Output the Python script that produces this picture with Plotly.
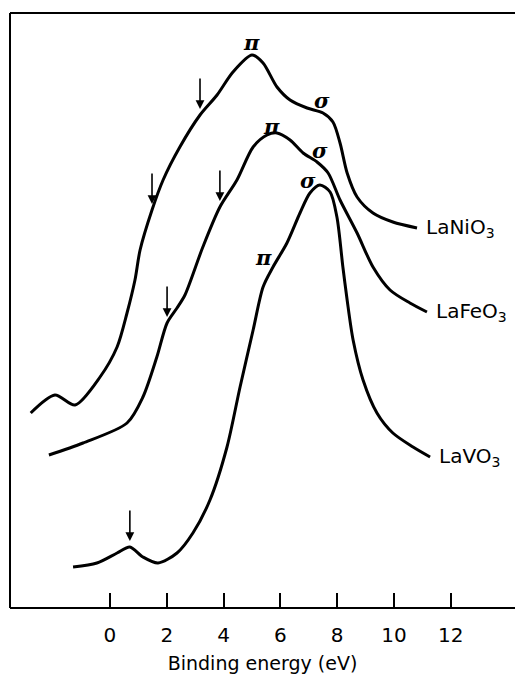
import numpy as np
import plotly.graph_objects as go

# Valence-band spectra (binding energy in eV, intensity in arbitrary units)
ni_energy = [-2.79, -1.94, -1.23, -0.35, 0.25, 0.60, 0.88, 1.06, 1.48, 1.87, 2.46,
             3.17, 3.77, 4.33, 5.00, 5.39, 5.88, 6.34, 6.94, 7.50, 7.85, 8.10,
             8.35, 8.70, 9.26, 9.96, 10.81]
ni_intensity = [195, 213, 203, 231, 261, 295, 328, 358, 398, 428, 461,
                493, 513, 536, 553, 545, 521, 508, 500, 495, 486, 465,
                435, 411, 395, 386, 380]

fe_energy = [-2.15, -0.95, 0.60, 1.16, 1.65, 2.01, 2.36, 2.64, 3.27, 3.87, 4.47,
             5.04, 5.53, 5.88, 6.34, 6.80, 7.29, 7.68, 8.10, 8.70, 9.26, 9.86,
             10.56, 11.16]
fe_intensity = [153, 165, 185, 211, 251, 285, 300, 313, 361, 401, 428,
                461, 473, 475, 468, 455, 446, 435, 408, 375, 341, 318,
                305, 296]

v_energy = [-1.30, -0.46, 0.25, 0.70, 1.16, 1.69, 2.36, 2.92, 3.52, 4.12, 4.58,
            5.04, 5.39, 5.74, 6.23, 6.69, 7.04, 7.39, 7.75, 7.99, 8.20, 8.35,
            8.56, 8.91, 9.40, 9.96, 10.67, 11.27]
v_intensity = [41, 45, 55, 61, 51, 45, 55, 75, 108, 161, 221,
               278, 321, 341, 365, 395, 415, 423, 416, 391, 341, 308,
               268, 228, 195, 175, 161, 151]

# Energies of the features marked with arrows
ni_arrows = [1.48, 3.17]
fe_arrows = [2.01, 3.87]
v_arrows = [0.70]

# Peak labels: (energy, intensity, symbol)
ni_peaks = [(5.00, 566, "π"), (7.46, 508, "σ")]
fe_peaks = [(5.70, 482, "π"), (7.39, 458, "σ")]
v_peaks = [(5.39, 351, "π"), (6.97, 428, "σ")]

compounds = ["LaNiO<sub>3</sub>", "LaFeO<sub>3</sub>", "LaVO<sub>3</sub>"]
tick_values = [0, 2, 4, 6, 8, 10, 12]
x_title = "Binding energy (eV)"

FONT = "DejaVu Sans"
INK = "black"

fig = go.Figure()
series = [
    (ni_energy, ni_intensity, ni_arrows, ni_peaks),
    (fe_energy, fe_intensity, fe_arrows, fe_peaks),
    (v_energy, v_intensity, v_arrows, v_peaks),
]

annotations = []
for (xs, ys, arrows, peaks), name in zip(series, compounds):
    fig.add_trace(go.Scatter(
        x=xs, y=ys, mode="lines",
        line=dict(color=INK, width=3, shape="spline", smoothing=0.8),
        hoverinfo="skip", showlegend=False,
    ))
    # compound name at the tail of each curve
    annotations.append(dict(
        x=xs[-1], y=ys[-1], text=name, showarrow=False,
        xanchor="left", yanchor="middle", xshift=7,
        font=dict(family=FONT, size=20, color=INK),
    ))
    # downward arrows pointing at shoulders
    for e in arrows:
        tip = float(np.interp(e, xs, ys)) + 6
        annotations.append(dict(
            x=e, y=tip, text="", showarrow=True,
            ax=0, ay=-32, arrowhead=2, arrowsize=1.1, arrowwidth=1.6,
            arrowcolor=INK,
        ))
    for e, inten, sym in peaks:
        annotations.append(dict(
            x=e, y=inten, text=f"<b><i>{sym}</i></b>", showarrow=False,
            xanchor="center", yanchor="middle",
            font=dict(family="DejaVu Serif", size=21, color=INK),
        ))

# Frame: top, left and bottom edges only (right side left open)
frame = [
    dict(type="line", xref="paper", yref="paper", x0=0, x1=1, y0=1, y1=1),
    dict(type="line", xref="paper", yref="paper", x0=0, x1=0, y0=0, y1=1),
    dict(type="line", xref="paper", yref="paper", x0=0, x1=1, y0=0, y1=0),
]
for s in frame:
    s["line"] = dict(color=INK, width=2)

fig.update_layout(
    width=515, height=684,
    margin=dict(l=10, r=0, t=13, b=76),
    paper_bgcolor="white", plot_bgcolor="white",
    annotations=annotations,
    shapes=frame,
    xaxis=dict(
        range=[-3.52, 14.26],
        tickvals=tick_values,
        ticks="inside", ticklen=15, tickwidth=2, tickcolor=INK,
        showline=False, mirror=False,
        showgrid=False, zeroline=False,
        ticklabelstandoff=13,
        tickfont=dict(family=FONT, size=20, color=INK),
        title=dict(text=x_title, standoff=10,
                   font=dict(family=FONT, size=19, color=INK)),
    ),
    yaxis=dict(
        range=[0, 595],
        showticklabels=False, ticks="",
        showline=False, mirror=False,
        showgrid=False, zeroline=False,
    ),
)

fig.write_html("out.html")
